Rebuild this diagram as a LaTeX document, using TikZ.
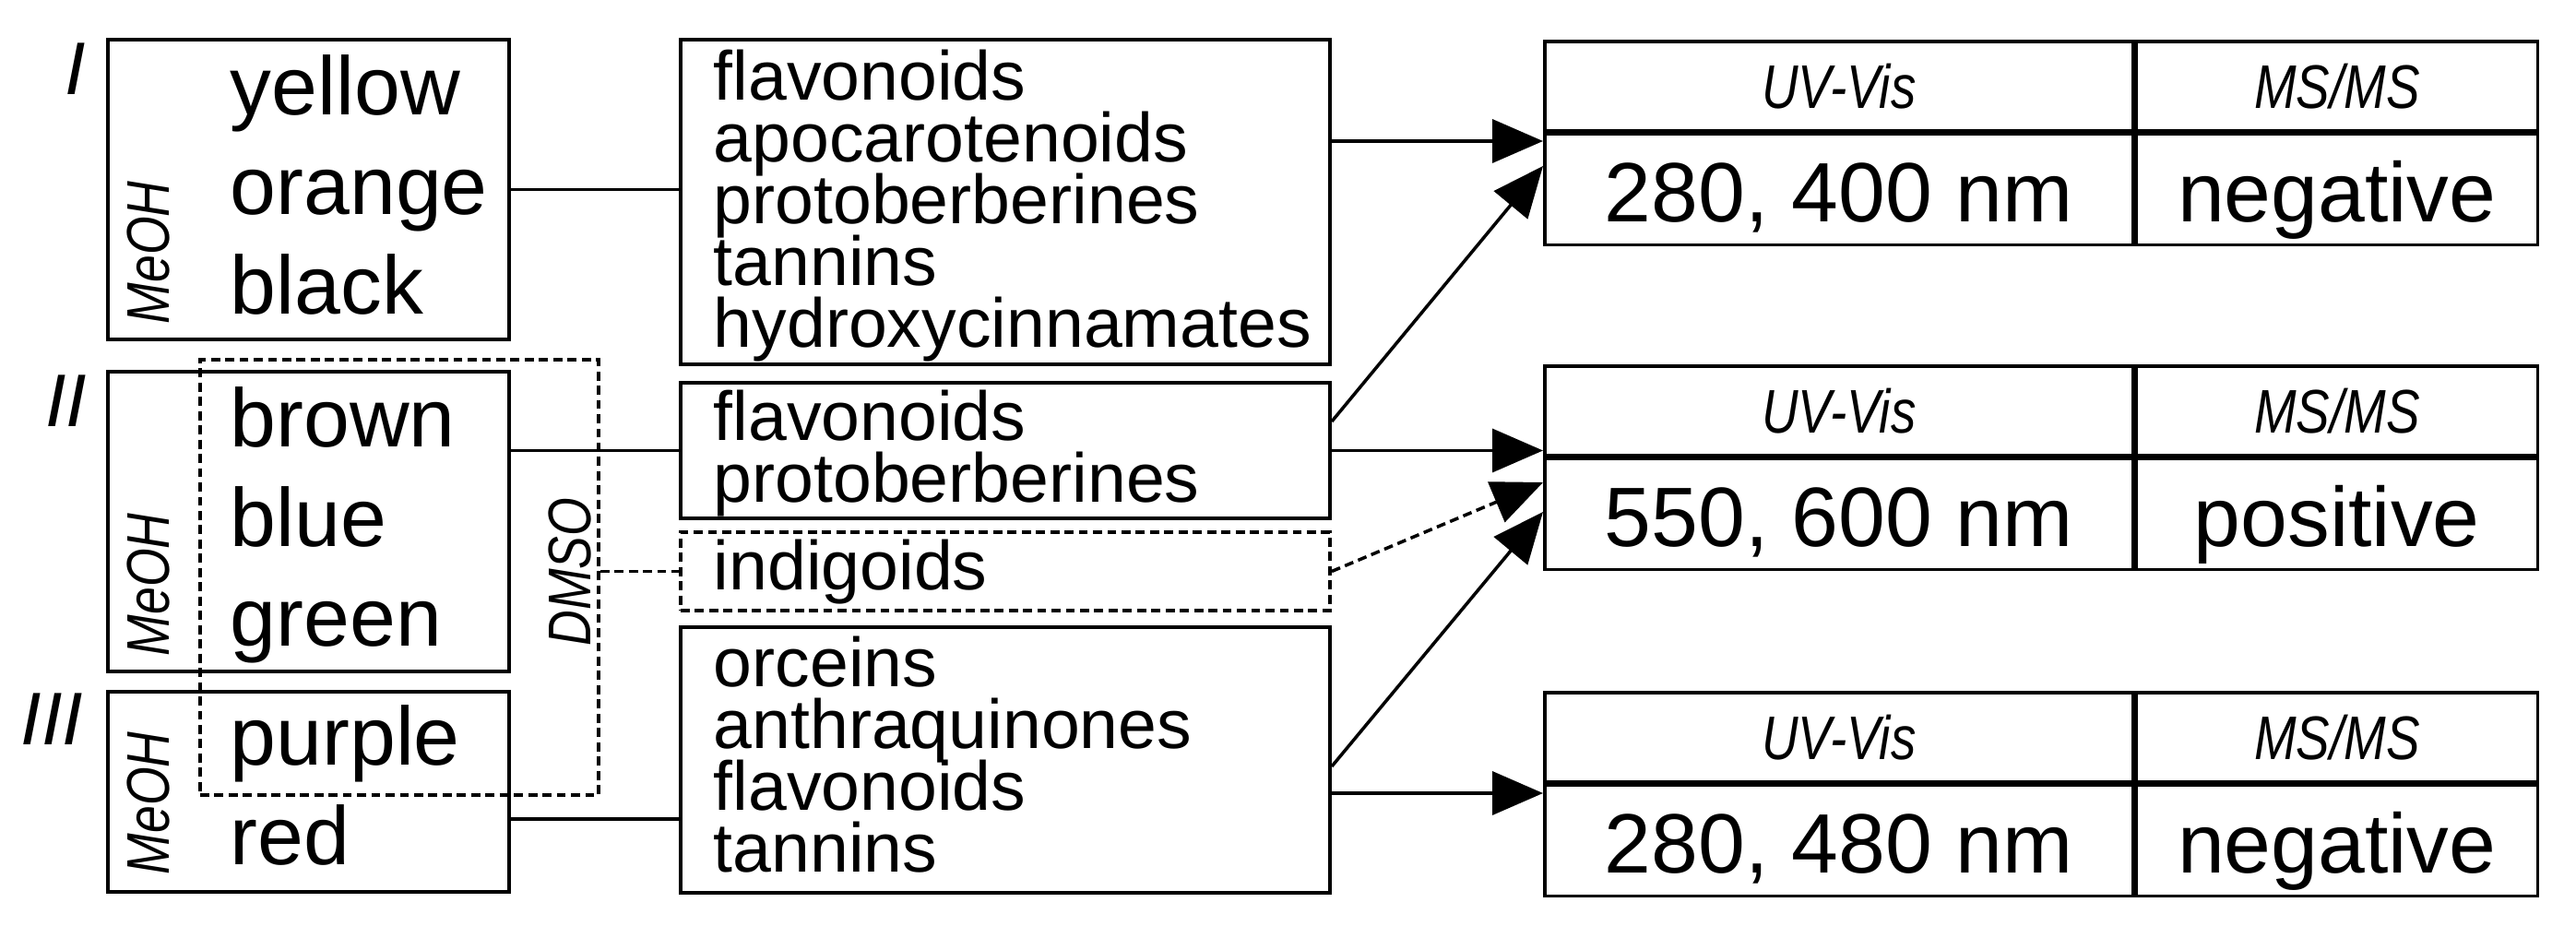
\documentclass[tikz,border=0pt]{standalone}
\usepackage{fontspec}
\setmainfont{Liberation Sans}
\newfontfamily\narrowsans[FakeStretch=0.82]{Liberation Sans}
\usetikzlibrary{arrows.meta}

\begin{document}
\begin{tikzpicture}
	[x=1cm, y=-1cm, line width=1pt,
	srcbox/.style={draw, line width=1.1pt, inner sep=0pt, minimum width=4.35cm},
	midbox/.style={draw, line width=1.1pt, inner sep=0pt, minimum width=7.04cm},
	tabcell/.style={draw, line width=1pt, inner sep=0pt, anchor=north west, text depth=0pt},
	headcell/.style={tabcell, minimum height=0.97cm, text height=0.49cm, font=\narrowsans\itshape\fontsize{19}{22}\selectfont},
	valcell/.style={tabcell, minimum height=1.20cm, text height=0.70cm, font=\fontsize{26}{30}\selectfont},
	loosedash/.style={dash pattern=on 2.8pt off 1.6pt},
	dyename/.style={inner sep=0pt, anchor=base west, font=\fontsize{25.5}{30}\selectfont},
	compname/.style={inner sep=0pt, anchor=base west, font=\fontsize{21.4}{25}\selectfont},
	solvent/.style={inner sep=0pt, rotate=90, font=\narrowsans\itshape\fontsize{18.6}{22}\selectfont},
	grouplabel/.style={inner sep=0pt, anchor=base east, font=\itshape\fontsize{23}{27}\selectfont},
	arr/.style={-{Triangle[length=5.5mm,width=4.7mm]}}]
	\useasboundingbox (0,0) rectangle (27.93,10.17);
	% extracts
	\node[srcbox, minimum height=3.25cm] (grp1) at (3.345,2.055) {};
	\node[srcbox, minimum height=3.25cm] (grp2) at (3.345,5.655) {};
	\node[srcbox, minimum height=2.17cm] (grp3) at (3.345,8.585) {};
	\node[grouplabel] (lab1) at (0.95,1.03) {I};
	\node[grouplabel] (lab2) at (0.96,4.63) {II};
	\node[grouplabel] (lab3) at (0.92,8.08) {III};
	\node[solvent, anchor=base west] (meoh1) at (1.83,3.53) {MeOH};
	\node[solvent, anchor=base west] (meoh2) at (1.83,7.13) {MeOH};
	\node[solvent, anchor=base west] (meoh3) at (1.83,9.50) {MeOH};
	\foreach \w [count=\i] in {yellow, orange, black}
		\node[dyename] (dyeA\i) at (2.48,0.17+1.08*\i) {\w};
	\foreach \w [count=\i] in {brown, blue, green}
		\node[dyename] (dyeB\i) at (2.48,3.77+1.08*\i) {\w};
	\foreach \w [count=\i] in {purple, red}
		\node[dyename] (dyeC\i) at (2.48,7.22+1.08*\i) {\w};
	\node[draw, loosedash, inner sep=0pt, minimum width=4.32cm, minimum height=4.72cm] (dmso) at (4.33,6.26) {};
	\node[solvent, anchor=base] (dmsolab) at (6.40,6.20) {DMSO};
	% compound classes
	\node[midbox, minimum height=3.52cm] (cls1) at (10.9,2.19) {};
	\node[midbox, minimum height=1.47cm] (cls2) at (10.9,4.885) {};
	\node[midbox, loosedash, minimum height=0.85cm] (ind) at (10.9,6.195) {};
	\node[midbox, minimum height=2.88cm] (cls4) at (10.9,8.24) {};
	\foreach \w [count=\i] in {flavonoids, apocarotenoids, protoberberines, tannins, hydroxycinnamates}
		\node[compname] (clsA\i) at (7.72,0.42+0.67*\i) {\w};
	\foreach \w [count=\i] in {flavonoids, protoberberines}
		\node[compname] (clsB\i) at (7.72,4.11+0.67*\i) {\w};
	\node[compname] (indname) at (7.72,6.40) {indigoids};
	\foreach \w [count=\i] in {orceins, anthraquinones, flavonoids, tannins}
		\node[compname] (clsD\i) at (7.72,6.78+0.67*\i) {\w};
	% detection tables
	\foreach \n/\top/\wl/\ion in {1/0.43/{280, 400 nm}/negative, 2/3.95/{550, 600 nm}/positive, 3/7.49/{280, 480 nm}/negative} {
		\node[headcell, minimum width=6.38cm] (uvh\n) at (16.73,\top) {UV-Vis};
		\node[headcell, minimum width=4.35cm] (msh\n) at (uvh\n.north east) {MS/MS};
		\node[valcell, minimum width=6.38cm] (uvv\n) at (uvh\n.south west) {\wl};
		\node[valcell, minimum width=4.35cm] (msv\n) at (uvv\n.north east) {\ion};
	}
	% connectors
	\draw (grp1.east) -- (grp1.east -| cls1.west);
	\draw (grp2.east |- cls2.west) -- (cls2.west);
	\draw[loosedash] (dmso.east |- ind.west) -- (ind.west);
	\draw (grp3.east |- 0,8.88) -- (cls4.west |- 0,8.88);
	\draw[arr] (cls1.east |- 0,1.53) -- (uvv1.west |- 0,1.53);
	\draw[arr] (cls2.east |- 0,4.57) -- (uvv1.west |- 0,1.80);
	\draw[arr] (cls2.east) -- (cls2.east -| uvh2.west);
	\draw[arr, loosedash] (ind.east) -- (uvv2.west |- 0,5.23);
	\draw[arr] (cls4.east |- 0,8.31) -- (uvv2.west |- 0,5.55);
	\draw[arr] (cls4.east |- 0,8.60) -- (uvv3.west |- 0,8.60);
\end{tikzpicture}
\end{document}
